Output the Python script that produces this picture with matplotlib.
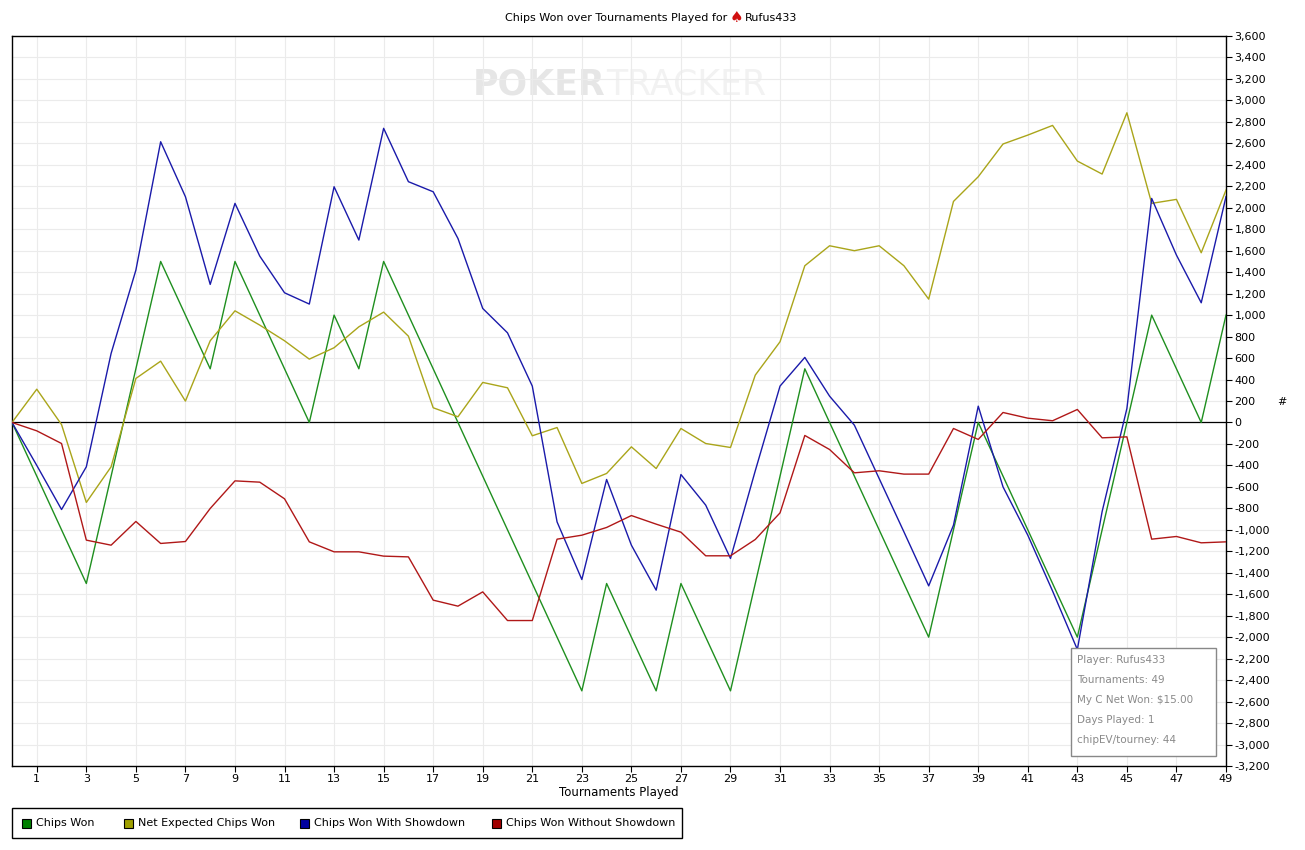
import matplotlib
matplotlib.use("Agg")
import matplotlib.pyplot as plt
from matplotlib.patches import Rectangle
import numpy as np

plt.rcParams['font.family'] = ['DejaVu Sans']

# tournaments 0..49
tourneys = np.arange(0, 50)

chips_won = [0, -500, -1000, -1500, -500, 500, 1500, 1000, 500, 1500,
             1000, 500, 0, 1000, 500, 1500, 1000, 500, 0, -500,
             -1000, -1500, -2000, -2500, -1500, -2000, -2500, -1500, -2000, -2500,
             -1500, -500, 500, 0, -500, -1000, -1500, -2000, -1000, 0,
             -500, -1000, -1500, -2000, -1000, 0, 1000, 500, 0, 1000]

net_expected = [0, 310, -20, -745, -413, 410, 571, 199, 761, 1040,
                907, 761, 590, 696, 891, 1028, 804, 137, 53, 373,
                323, -124, -47, -568, -475, -227, -429, -56, -196, -233,
                441, 752, 1460, 1646, 1600, 1646, 1460, 1149, 2059, 2289,
                2594, 2677, 2767, 2435, 2314, 2885, 2041, 2078, 1581, 2165]

with_showdown = [0, -400, -811, -413, 643, 1419, 2615, 2103, 1286, 2041,
                 1550, 1208, 1103, 2196, 1699, 2740, 2243, 2149, 1714, 1062,
                 835, 339, -926, -1463, -531, -1143, -1562, -485, -770, -1267,
                 -450, 339, 606, 245, -25, -522, -1019, -1522, -957, 152,
                 -600, -1050, -1570, -2115, -830, 130, 2087, 1559, 1115, 2103]

without_showdown = [0, -78, -196, -1096, -1143, -922, -1127, -1109, -801, -544,
                    -556, -711, -1112, -1205, -1205, -1245, -1252, -1655, -1711, -1578,
                    -1845, -1845, -1087, -1050, -978, -867, -947, -1022, -1242, -1242,
                    -1090, -842, -121, -252, -469, -450, -481, -481, -56, -158,
                    93, 40, 16, 121, -143, -134, -1087, -1062, -1121, -1112]

series_names = ["Chips Won", "Net Expected Chips Won",
                "Chips Won With Showdown", "Chips Won Without Showdown"]
line_colors = ["#1f8f1f", "#aaa51a", "#1a1aaa", "#b01818"]
box_colors = ["#008000", "#a0a000", "#0000a0", "#a00000"]

fig = plt.figure(figsize=(13.05, 8.5), dpi=100)
ax = fig.add_axes([12 / 1305, 84 / 850, 1214 / 1305, 730 / 850])

for vals, c in zip([chips_won, net_expected, with_showdown, without_showdown], line_colors):
    ax.plot(tourneys, vals, color=c, linewidth=1.0, zorder=3)

ax.axhline(0, color="black", linewidth=0.9, zorder=2)

ax.set_xlim(0, 49)
ax.set_ylim(-3200, 3600)
ax.set_xticks(np.arange(1, 50, 2))
ax.set_yticks(np.arange(-3200, 3601, 200))
ax.set_yticklabels([f"{v:,}" for v in range(-3200, 3601, 200)])
ax.yaxis.tick_right()
ax.tick_params(axis="both", labelsize=8, length=4, width=0.8, colors="black", pad=2)
ax.grid(True, color="#ebebeb", linewidth=0.8, zorder=0)
for s in ax.spines.values():
    s.set_linewidth(1.0)
ax.set_xlabel("Tournaments Played", fontsize=8.5, labelpad=1)

# "#" label at right
fig.text(1282 / 1305, 1 - 402 / 850, "#", fontsize=8, ha="center", va="center")

# title with spade
fig.text(727 / 1305, 1 - 18 / 850, "Chips Won over Tournaments Played for", fontsize=8,
         ha="right", va="center")
fig.text(736 / 1305, 1 - 18 / 850, "\u2660", fontsize=11, color="#d01010",
         ha="center", va="center")
fig.text(745 / 1305, 1 - 18 / 850, "Rufus433", fontsize=8, ha="left", va="center")

# watermark
ax.text(0.489, 0.933, "POKER", transform=ax.transAxes, fontsize=25, fontweight="bold",
        color="#e6e6e6", ha="right", va="center", zorder=1)
ax.text(0.489, 0.933, "TRACKER", transform=ax.transAxes, fontsize=25,
        color="#f2f2f2", ha="left", va="center", zorder=1)

# info box
info_lines = ["Player: Rufus433", "Tournaments: 49", "My C Net Won: $15.00",
              "Days Played: 1", "chipEV/tourney: 44"]
bx0, by0, bw, bh = 1071, 648, 145, 108
fig.patches.append(Rectangle((bx0 / 1305, 1 - (by0 + bh) / 850), bw / 1305, bh / 850,
                             transform=fig.transFigure, facecolor="white",
                             edgecolor="#888888", linewidth=1.0, zorder=5))
for i, t in enumerate(info_lines):
    fig.text((bx0 + 6) / 1305, 1 - (by0 + 12 + i * 20) / 850, t, fontsize=7.5,
             color="#8a8a8a", ha="left", va="center", zorder=6)

# legend box
lx0, ly0, lw, lh = 12, 808, 670, 30
fig.patches.append(Rectangle((lx0 / 1305, 1 - (ly0 + lh) / 850), lw / 1305, lh / 850,
                             transform=fig.transFigure, facecolor="white",
                             edgecolor="black", linewidth=1.0))
item_x = [22, 124, 300, 492]
for x0, name, bc in zip(item_x, series_names, box_colors):
    fig.patches.append(Rectangle((x0 / 1305, 1 - 828 / 850), 9 / 1305, 9 / 850,
                                 transform=fig.transFigure, facecolor=bc,
                                 edgecolor="black", linewidth=0.8))
    fig.text((x0 + 14) / 1305, 1 - 823.5 / 850, name, fontsize=8, ha="left", va="center")

fig.savefig("out.png", dpi=100, facecolor="white")
